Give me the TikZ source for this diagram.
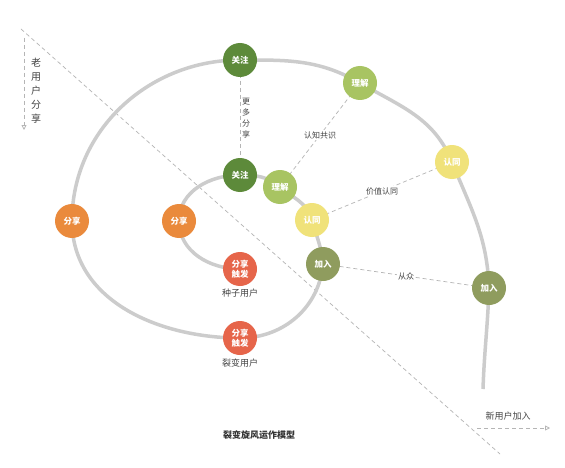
\documentclass[tikz,border=0pt]{standalone}
\usepackage{fontspec}
\setmainfont{Noto Sans CJK SC}
\usetikzlibrary{arrows.meta}
\definecolor{cGZ}{HTML}{5D8A3A}
\definecolor{cLJ}{HTML}{A8C462}
\definecolor{cRT}{HTML}{F0E27A}
\definecolor{cJR}{HTML}{8F9C5E}
\definecolor{cFX}{HTML}{EA8A3C}
\definecolor{cCF}{HTML}{E6654A}
\definecolor{spiral}{HTML}{CCCCCC}
\definecolor{dashc}{HTML}{B5B5B5}
\definecolor{txt}{HTML}{444444}
\tikzset{
  stage/.style={circle, minimum size=34pt, inner sep=0pt, text=white, font=\fontsize{8.5}{10}\selectfont\bfseries, align=center},
  spiralline/.style={draw=spiral, line width=3.5pt},
  link/.style={draw=dashc, line width=0.7pt, dash pattern=on 4pt off 3pt},
  linklabel/.style={fill=white, inner sep=1pt, text=txt, font=\fontsize{8}{9}\selectfont},
  caption/.style={text=txt, font=\fontsize{9}{11}\selectfont},
  flowarrow/.style={draw=dashc, line width=0.8pt, dash pattern=on 4pt off 3pt, -{Triangle[open,length=5pt,width=5pt]}}
}
\begin{document}
\begin{tikzpicture}[x=1pt,y=1pt]
\useasboundingbox (0,0) rectangle (565,467);
\fill[white] (0,0) rectangle (565,467);
% coordinates
\coordinate (OGZc) at (240,407);
\coordinate (OLJc) at (360,384);
\coordinate (ORTc) at (452,305);
\coordinate (OJRc) at (489,179);
\coordinate (OFXc) at (72,246);
\coordinate (OCFc) at (240,129);
\coordinate (IGZc) at (240,292);
\coordinate (ILJc) at (280,280);
\coordinate (IRTc) at (312,247);
\coordinate (IJRc) at (323,203);
\coordinate (IFXc) at (179,246);
\coordinate (ICFc) at (240,198);
\coordinate (spend) at (483,78);
% diagonal dashed divider
\coordinate (dA) at (21,438);
\coordinate (dB) at (500,13);
\draw[link] (dA) -- (dB);
% spiral
\path[spiralline] (spend) to[out=88,in=-92] (OJRc)
  to[out=92,in=-68] (ORTc)
  to[out=112,in=-30] (OLJc)
  to[out=150,in=0] (OGZc)
  to[out=180,in=90] (OFXc)
  to[out=-90,in=180] (OCFc)
  to[out=0,in=-95] (IJRc)
  to[out=95,in=-75] (IRTc)
  to[out=105,in=-40] (ILJc)
  to[out=140,in=0] (IGZc)
  to[out=180,in=90] (IFXc)
  to[out=-90,in=180] (ICFc);
% links
\draw[link] (OGZc) -- (IGZc);
\draw[link] (OLJc) -- node[linklabel, pos=0.5]{认知共识} (ILJc);
\draw[link] (ORTc) -- node[linklabel, pos=0.5]{价值认同} (IRTc);
\draw[link] (OJRc) -- node[linklabel, pos=0.5]{从众} (IJRc);
\node[text=txt, font=\fontsize{8}{11}\selectfont, align=center] (more) at (246,349) {更\\多\\分\\享};
% stage nodes
\node[stage, fill=cGZ] (OGZ) at (OGZc) {关注};
\node[stage, fill=cLJ] (OLJ) at (OLJc) {理解};
\node[stage, fill=cRT] (ORT) at (ORTc) {认同};
\node[stage, fill=cJR] (OJR) at (OJRc) {加入};
\node[stage, fill=cFX] (OFX) at (OFXc) {分享};
\node[stage, fill=cCF] (OCF) at (OCFc) {分享\\触发};
\node[stage, fill=cGZ] (IGZ) at (IGZc) {关注};
\node[stage, fill=cLJ] (ILJ) at (ILJc) {理解};
\node[stage, fill=cRT] (IRT) at (IRTc) {认同};
\node[stage, fill=cJR] (IJR) at (IJRc) {加入};
\node[stage, fill=cFX] (IFX) at (IFXc) {分享};
\node[stage, fill=cCF] (ICF) at (ICFc) {分享\\触发};
% captions
\node[caption] (seed) at (240,174) {种子用户};
\node[caption] (fiss) at (240,104) {裂变用户};
\node[text=black!80, font=\fontsize{9}{11}\selectfont\bfseries] (title) at (259,32) {裂变旋风运作模型};
% old user share arrow
\coordinate (oA) at (24,429);
\coordinate (oB) at (24,337);
\draw[flowarrow] (oA) -- (oB);
\node[text=txt, font=\fontsize{10}{14}\selectfont, align=center] (oldtxt) at (36,376) {老\\用\\户\\分\\享};
% new user join arrow
\coordinate (nA) at (477,39);
\coordinate (nB) at (550,39);
\draw[flowarrow] (nA) -- (nB);
\node[text=txt, font=\fontsize{9}{11}\selectfont] (newtxt) at (508,51) {新用户加入};
\end{tikzpicture}
\end{document}
